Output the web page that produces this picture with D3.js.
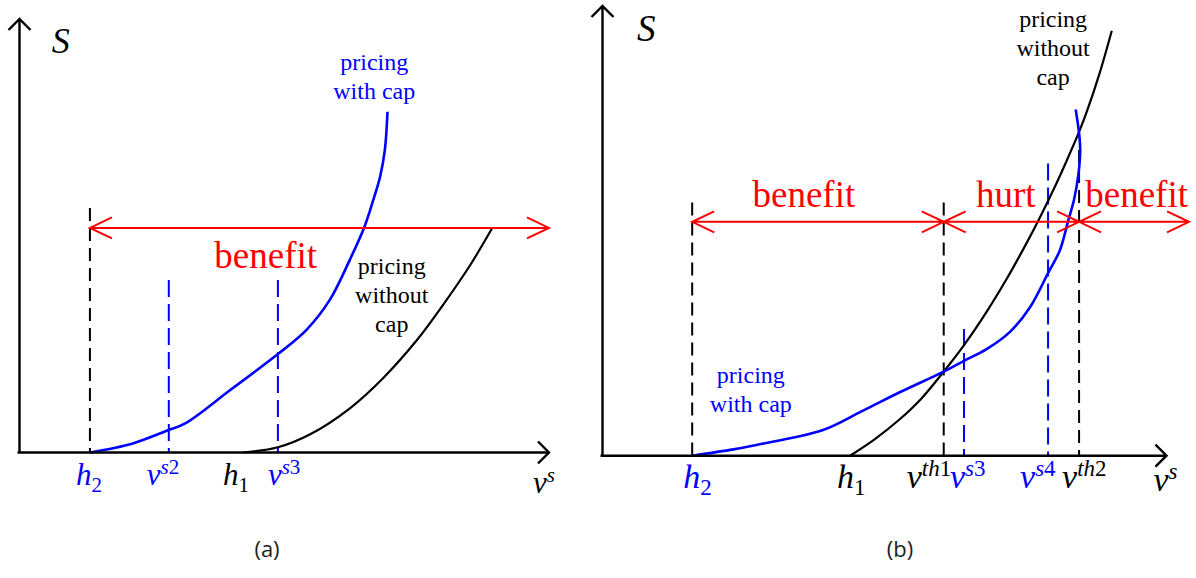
<!DOCTYPE html>
<html>
<head>
<meta charset="utf-8">
<script src="https://cdn.jsdelivr.net/npm/d3@7"></script>
<style>
body { margin: 0; background: #fff; }
</style>
</head>
<body>
<script>
// ---- panel (a) data (x in v^s units, y in S units, both 0..10 to the axis tips)
var aCapX = [1.33, 2.14, 2.82, 3.13, 3.98, 4.88, 5.42, 5.86, 6.24, 6.51, 6.68, 6.81, 6.90, 6.95];
var aCapY = [0, 0.21, 0.52, 0.67, 1.44, 2.27, 2.83, 3.52, 4.45, 5.19, 5.82, 6.36, 6.98, 7.86];
var aNoCapX = [4.22, 4.88, 5.49, 6.24, 6.87, 7.51, 7.99, 8.51, 8.92];
var aNoCapY = [0, 0.12, 0.42, 1.02, 1.72, 2.60, 3.39, 4.32, 5.16];
var aThreshX = [1.33], aThreshTop = [5.64];
var aMarkX = [2.82, 4.88], aMarkTop = [3.98, 3.98];
var aArrowStops = [1.33, 10], aArrowY = 5.18;
var aWords = ["benefit"], aWordX = [4.65], aWordY = 4.26;
var aTicks = [["h", "2", "sub"], ["v", "s2", "sup"], ["h", "1", "sub"], ["v", "s3", "sup"]];
var aTickX = [1.33, 2.82, 4.22, 4.88];

// ---- panel (b) data
var bCapX = [1.59, 2.32, 2.73, 3.91, 4.60, 5.27, 6.05, 6.41, 6.81, 7.23, 7.58, 7.90, 8.11, 8.26, 8.36, 8.44, 8.47, 8.45, 8.39];
var bCapY = [0, 0.14, 0.24, 0.57, 0.99, 1.41, 1.87, 2.11, 2.37, 2.76, 3.30, 4.06, 4.57, 5.24, 5.69, 6.28, 6.80, 7.17, 7.70];
var bNoCapX = [4.39, 4.83, 5.27, 5.66, 6.05, 6.41, 6.81, 7.17, 7.49, 7.76, 8.05, 8.23, 8.45, 8.59, 8.82, 9.03];
var bNoCapY = [0, 0.37, 0.81, 1.28, 1.87, 2.46, 3.20, 3.94, 4.66, 5.31, 6.06, 6.56, 7.20, 7.66, 8.53, 9.45];
var bThreshX = [1.59, 6.05, 8.45], bThreshTop = [5.63, 5.63, 6.80];
var bMarkX = [6.41, 7.90], bMarkTop = [2.82, 6.50];
var bArrowStops = [1.59, 6.05, 8.45, 10.40], bArrowY = 5.20;
var bWords = ["benefit", "hurt", "benefit"], bWordX = [3.57, 7.15, 9.47], bWordY = 5.52;
var bTicks = [["h", "2", "sub"], ["h", "1", "sub"], ["v", "th1", "sup"], ["v", "s3", "sup"], ["v", "s4", "sup"], ["v", "th2", "sup"]];
var bTickX = [1.59, 4.39, 6.05, 6.41, 7.90, 8.45];

var BLUE = "#0000ff", RED = "#ff0000", BLACK = "#000";
var SERIF = "Liberation Serif";

var svg = d3.select("body").append("svg")
    .attr("width", 1196)
    .attr("height", 578)
    .attr("font-family", SERIF);

var panels = [{
    x: d3.scaleLinear().domain([0, 10]).range([19.5, 549]),
    y: d3.scaleLinear().domain([0, 10]).range([452.5, 19]),
    capX: aCapX, capY: aCapY, noX: aNoCapX, noY: aNoCapY,
    thX: aThreshX, thTop: aThreshTop, mkX: aMarkX, mkTop: aMarkTop,
    stops: aArrowStops, arrowY: aArrowY, words: aWords, wordX: aWordX, wordY: aWordY,
    ticks: aTicks, tickX: aTickX,
    tickDx: [-14, -22, -20, -10], tickColor: [BLUE, BLUE, BLACK, BLUE], tickY: 485,
    fs: 31, sFs: 36,
    capLabel: { x: 6.70, y: 8.82 }, noLabel: { x: 7.03, y: 4.12 },
    sPos: { x: 0.61, y: 9.22 }, vsDx: -16, vsY: 493,
    caption: "(a)", capCx: 267
}, {
    x: d3.scaleLinear().domain([0, 10]).range([602.5, 1166.5]),
    y: d3.scaleLinear().domain([0, 10]).range([455.7, 6]),
    capX: bCapX, capY: bCapY, noX: bNoCapX, noY: bNoCapY,
    thX: bThreshX, thTop: bThreshTop, mkX: bMarkX, mkTop: bMarkTop,
    stops: bArrowStops, arrowY: bArrowY, words: bWords, wordX: bWordX, wordY: bWordY,
    ticks: bTicks, tickX: bTickX,
    tickDx: [-9, -13, -37, -14, -28, -17], tickColor: [BLUE, BLACK, BLACK, BLUE, BLUE, BLACK], tickY: 488,
    fs: 34, sFs: 37,
    capLabel: { x: 2.63, y: 1.61 }, noLabel: { x: 7.99, y: 9.53 },
    sPos: { x: 0.61, y: 9.23 }, vsDx: -13, vsY: 491,
    caption: "(b)", capCx: 900
}];

// open chevron arrowhead with its tip at (px,py), pointing along (dx,dy)
function head(px, py, dx, dy, len, half) {
    var bx = px - dx * len, by = py - dy * len;
    return "M" + (bx - dy * half) + "," + (by + dx * half) +
        "L" + px + "," + py +
        "L" + (bx + dy * half) + "," + (by - dx * half);
}

// italic letter with a sub/superscript; digits upright
function mathLabel(g, px, py, base, script, pos, size, color) {
    var t = g.append("text")
        .attr("x", px).attr("y", py)
        .attr("fill", color)
        .style("font-size", size + "px");
    t.append("tspan").style("font-style", "italic").text(base);
    var runs = script.match(/[a-z]+|[0-9]+/g);
    runs.forEach(function(r, i) {
        var s = t.append("tspan")
            .style("font-size", Math.round(size * 0.68) + "px")
            .style("font-style", /[0-9]/.test(r) ? "normal" : "italic")
            .text(r);
        if (i == 0) s.attr("dy", pos == "sup" ? -0.36 * size : 0.22 * size);
    });
}

function multiLine(g, px, py, lines, color, size, gap) {
    var t = g.append("text")
        .attr("x", px).attr("y", py)
        .attr("text-anchor", "middle")
        .attr("fill", color)
        .style("font-size", size + "px");
    lines.forEach(function(l, i) {
        t.append("tspan").attr("x", px).attr("dy", i == 0 ? 0 : gap).text(l);
    });
}

panels.forEach(function(p) {
    var g = svg.append("g");
    var x = p.x, y = p.y;
    var x0 = x(0), y0 = y(0);

    // dashed guide lines
    g.selectAll("line.th")
        .data(p.thX)
        .enter().append("line")
        .attr("x1", function(d) { return x(d); })
        .attr("x2", function(d) { return x(d); })
        .attr("y1", function(d, i) { return y(p.thTop[i]); })
        .attr("y2", y0)
        .attr("stroke", BLACK)
        .attr("stroke-width", 2)
        .attr("stroke-dasharray", "13,7");

    g.selectAll("line.mk")
        .data(p.mkX)
        .enter().append("line")
        .attr("x1", function(d) { return x(d); })
        .attr("x2", function(d) { return x(d); })
        .attr("y1", function(d, i) { return y(p.mkTop[i]); })
        .attr("y2", y0)
        .attr("stroke", BLUE)
        .attr("stroke-width", 2)
        .attr("stroke-dasharray", "17,7");

    // curves
    var line = d3.line()
        .x(function(d) { return x(d[0]); })
        .y(function(d) { return y(d[1]); })
        .curve(d3.curveCatmullRom.alpha(0.5));

    g.append("path")
        .attr("d", line(d3.zip(p.noX, p.noY)))
        .attr("fill", "none")
        .attr("stroke", BLACK)
        .attr("stroke-width", 2.2);

    g.append("path")
        .attr("d", line(d3.zip(p.capX, p.capY)))
        .attr("fill", "none")
        .attr("stroke", BLUE)
        .attr("stroke-width", 2.6);

    // red double arrows
    var ay = y(p.arrowY);
    var segs = d3.pairs(p.stops);
    g.selectAll("path.seg")
        .data(segs)
        .enter().append("path")
        .attr("d", function(d) {
            var a = x(d[0]), b = x(d[1]);
            return "M" + a + "," + ay + "L" + b + "," + ay +
                head(a, ay, -1, 0, 22, 10.5) + head(b, ay, 1, 0, 22, 10.5);
        })
        .attr("fill", "none")
        .attr("stroke", RED)
        .attr("stroke-width", 2);

    g.selectAll("text.word")
        .data(p.words)
        .enter().append("text")
        .attr("x", function(d, i) { return x(p.wordX[i]); })
        .attr("y", y(p.wordY))
        .attr("text-anchor", "middle")
        .attr("fill", RED)
        .style("font-size", "37px")
        .text(function(d) { return d; });

    // axes
    g.append("path")
        .attr("d", "M" + (x0 - 2) + "," + y0 + "L" + x(10) + "," + y0 +
            head(x(10), y0, 1, 0, 11, 11) +
            "M" + x0 + "," + (y0 + 1) + "L" + x0 + "," + y(10) +
            head(x0, y(10), 0, -1, 11, 11))
        .attr("fill", "none")
        .attr("stroke", BLACK)
        .attr("stroke-width", 2.4);

    g.append("text")
        .attr("x", x(p.sPos.x))
        .attr("y", y(p.sPos.y))
        .style("font-style", "italic")
        .style("font-size", p.sFs + "px")
        .text("S");

    mathLabel(g, x(10) + p.vsDx, p.vsY, "v", "s", "sup", p.fs, BLACK);

    p.ticks.forEach(function(t, i) {
        mathLabel(g, x(p.tickX[i]) + p.tickDx[i], p.tickY, t[0], t[1], t[2], p.fs, p.tickColor[i]);
    });

    multiLine(g, x(p.capLabel.x), y(p.capLabel.y), ["pricing", "with cap"], BLUE, 24, 29);
    multiLine(g, x(p.noLabel.x), y(p.noLabel.y), ["pricing", "without", "cap"], BLACK, 24, 29);

    g.append("text")
        .attr("x", p.capCx)
        .attr("y", 557)
        .attr("text-anchor", "middle")
        .attr("fill", "#222")
        .attr("font-family", "Open Sans")
        .style("font-size", "22px")
        .text(p.caption);
});
</script>
</body>
</html>
